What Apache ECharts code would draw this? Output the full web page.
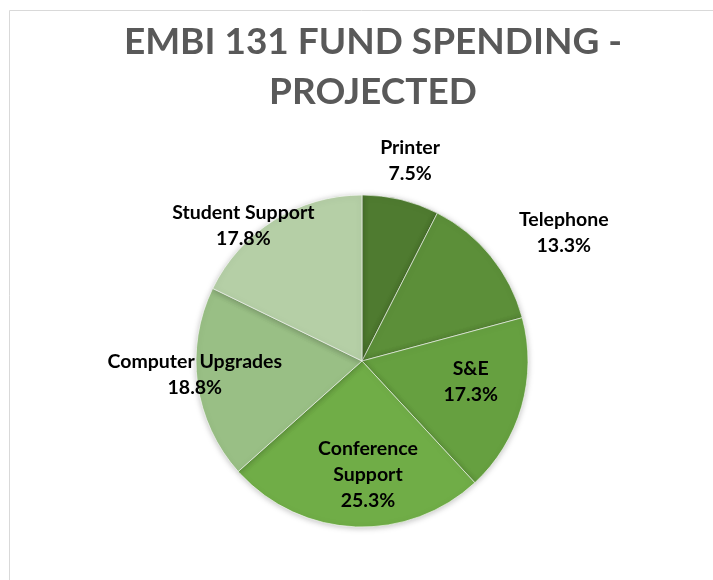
<!DOCTYPE html>
<html>
<head>
<meta charset="utf-8">
<script src="https://cdn.jsdelivr.net/npm/echarts@6/dist/echarts.min.js"></script>
<style>
html,body{margin:0;padding:0;background:#fff;}
#chart{width:713px;height:580px;}
</style>
</head>
<body>
<div id="chart"></div>
<script>
const titleText = 'EMBI 131 FUND SPENDING -\nPROJECTED';
const categories = ['Printer', 'Telephone', 'S&E', 'Conference\nSupport', 'Computer Upgrades', 'Student Support'];
const percents = [7.5, 13.3, 17.3, 25.3, 18.8, 17.8];
const colors = ['#4f7b30', '#5c8f39', '#66a040', '#70ad47', '#99bf85', '#b5cfa6'];
const labelOffsets = [[28, -117], [135, -74], [26, -3], [10, 28], [-82, 2], [-73, -62]];

const chart = echarts.init(document.getElementById('chart'), null, {renderer: 'canvas'});
const data = categories.map((c, i) => ({
  name: c,
  value: percents[i],
  itemStyle: {color: colors[i]},
  label: {offset: labelOffsets[i]}
}));
chart.setOption({
  animation: false,
  graphic: [{
    type: 'rect', shape: {x: 9.5, y: 10.5, width: 720, height: 600},
    style: {fill: 'none', stroke: '#d9d9d9', lineWidth: 1}, silent: true, z: -10
  }],
  title: {
    text: titleText, left: 368, top: 12, textAlign: 'center',
    textStyle: {fontFamily: 'Lato', fontWeight: 'bold', fontSize: 37, color: '#595959', lineHeight: 50}
  },
  series: [{
    type: 'pie',
    center: [362, 361],
    radius: [0, 166],
    startAngle: 90,
    clockwise: true,
    data: data,
    itemStyle: {borderColor: '#ffffff', borderWidth: 0.6, shadowBlur: 6, shadowColor: 'rgba(0,0,0,0.25)', shadowOffsetY: 1},
    label: {
      show: true, position: 'inside',
      formatter: p => p.name + '\n' + p.value.toFixed(1) + '%',
      fontFamily: 'Lato', fontWeight: 'bold', fontSize: 19.5, color: '#000', lineHeight: 26, align: 'center'
    },
    labelLine: {show: false},
    emphasis: {disabled: true}
  }]
});
</script>
</body>
</html>
